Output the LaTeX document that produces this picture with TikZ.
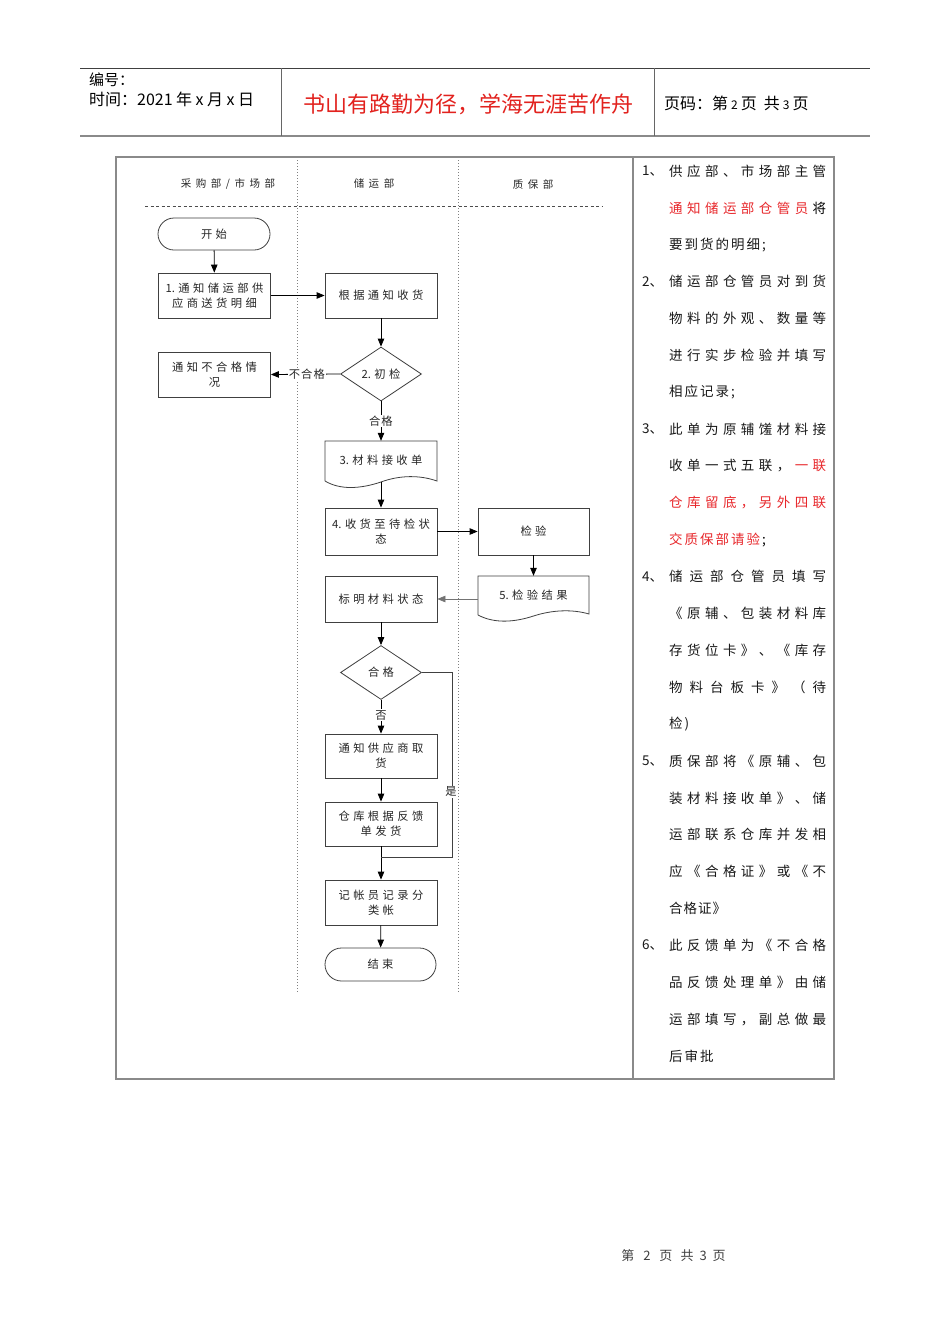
\documentclass[tikz,border=0pt]{standalone}
\usepackage{fontspec}
\setmainfont{Noto Sans CJK SC}
\usetikzlibrary{shapes.geometric,shapes.misc,arrows.meta,calc}
\definecolor{boxc}{HTML}{404040}
\definecolor{txtc}{HTML}{262626}
\definecolor{framec}{HTML}{8A8A8A}
\definecolor{titlered}{HTML}{E2221E}
\definecolor{notered}{HTML}{E8282C}
% character spreading
\newif\ifjlfirst
\def\RR{jlR}\def\KK{jlK}\def\jlE{jlE}
\def\fnA{1.}\def\fnB{2.}\def\fnC{3.}\def\fnD{4.}\def\fnE{5.}
\def\jlaux#1{%
  \ifx#1\jlE
  \else
    \ifx#1\RR\color{notered}%
    \else\ifx#1\KK\color{black}%
    \else\ifjlfirst\jlfirstfalse\else\jlsep\fi#1%
    \fi\fi
    \expandafter\jlaux
  \fi}
\newcommand\jl[1]{\hbox to 157pt{\jlfirsttrue\let\jlsep\hfill\jlaux#1\jlE}}
\newcommand\js[2][2pt]{\hbox{\jlfirsttrue\def\jlsep{\hskip#1}\jlaux#2\jlE}}
\newcommand\fcf{\fontsize{11.3}{15}\selectfont}
\newcommand\fcs[1]{\js[3.4pt]{#1}}
\begin{document}
\begin{tikzpicture}[x=1pt,y=-1pt,
  boxst/.style={draw=boxc, line width=0.8pt, minimum width=112pt, minimum height=45pt,
    inner sep=0pt, text=txtc, font=\fcf, align=center},
  termst/.style={rounded rectangle, draw=boxc, line width=0.8pt, minimum width=112pt,
    minimum height=32pt, inner sep=0pt, text=txtc, font=\fcf},
  decst/.style={diamond, draw=boxc, line width=0.8pt, minimum width=81pt, minimum height=54pt,
    inner sep=0pt, text=txtc, font=\fcf},
  docst/.style={minimum width=112pt, inner sep=0pt, text=txtc, font=\fcf},
  docline/.style={draw=boxc, line width=0.8pt},
  arr/.style={-{Triangle[length=8pt,width=6.5pt]}, line width=0.8pt, black},
  garr/.style={-{Triangle[length=8pt,width=6.5pt]}, line width=0.6pt, black!55},
  lbl/.style={fill=white, inner sep=1pt, text=txtc, font=\fcf},
  lane/.style={text=txtc, font=\fontsize{10.5}{12}\selectfont},
  note/.style={anchor=west, inner sep=0pt, text=black!90, font=\fontsize{13.5}{16}\selectfont},
]
\useasboundingbox (0,0) rectangle (950,1344);
\fill[white] (0,0) rectangle (950,1344);

% ---------- header ----------
\draw[black!75, line width=0.8pt] (80,68) -- (870,68);
\draw[framec, line width=2pt] (80,136) -- (870,136);
\draw[black!60, line width=0.8pt] (281,68) -- (281,136);
\draw[black!60, line width=0.8pt] (654,68) -- (654,136);
\node[anchor=west, inner sep=0pt, font=\fontsize{15}{15}\selectfont] (hno) at (89,80) {编号：};
\node[anchor=west, inner sep=0pt, font=\fontsize{16}{16}\selectfont] (htime) at (89,99)
  {时间：2021\hskip3.5pt 年\hskip3.5pt x\hskip3.5pt 月\hskip3.5pt x\hskip3.5pt 日};
\node[text=titlered, inner sep=0pt, font=\fontsize{22}{22}\selectfont] (htitle) at (468,104)
  {书山有路勤为径，学海无涯苦作舟};
\node[anchor=west, inner sep=0pt, font=\fontsize{16}{16}\selectfont] (hpage) at (664,103)
  {页码：第\hskip3pt{\fontsize{12}{12}\selectfont 2}\hskip3pt 页\hskip7pt 共\hskip3pt{\fontsize{12}{12}\selectfont 3}\hskip3pt 页};

% ---------- frame ----------
\draw[framec, line width=1.4pt] (116,157) rectangle (834,1079);
\draw[framec, line width=1.2pt] (633,157) -- (633,1079);

% lanes
\draw[black!50, line width=0.7pt, dash pattern=on 1.2pt off 1.8pt] (297,160) -- (297,993);
\draw[black!50, line width=0.7pt, dash pattern=on 1.2pt off 1.8pt] (458,160) -- (458,993);
\draw[black!70, line width=0.7pt, dash pattern=on 3pt off 2.5pt] (145,206) -- (603,206);
\node[lane] (lane1) at (228,184) {\js[4.5pt]{采购部/市场部}};
\node[lane] (lane2) at (374,184) {\js[4.5pt]{储运部}};
\node[lane] (lane3) at (533,184) {\js[4.5pt]{质保部}};

% ---------- flowchart nodes ----------
\node[termst] (start) at (214,234) {\fcs{开始}};
\node[boxst] (n1) at (214.5,295.5) {\fcs{\fnA 通知储运部供}\\\fcs{应商送货明细}};
\node[boxst] (n2) at (381,295.5) {\fcs{根据通知收货}};
\node[decst] (d1) at (381,374) {\fcs{\fnB 初检}};
\node[boxst] (nbad) at (214.5,374.5) {\fcs{通知不合格情}\\\fcs{况}};
\node[docst, minimum height=41pt] (n3) at (381,461.5) {\raisebox{3pt}{\fcs{\fnC 材料接收单}}};
\draw[docline] (325,481) -- (325,441) -- (437,441) -- (437,481)
  .. controls (420,475) and (400,475) .. (381,482)
  .. controls (360,489) and (340,490) .. (325,481);
\node[boxst, minimum height=47pt] (n4) at (381,531.5) {\fcs{\fnD 收货至待检状}\\\fcs{态}};
\node[boxst, minimum height=47pt, minimum width=111pt] (ninsp) at (533.5,531.5) {\fcs{检验}};
\node[docst, minimum width=111pt, minimum height=40pt] (n5) at (533.5,596) {\raisebox{2pt}{\fcs{\fnE 检验结果}}};
\draw[docline] (478,615) -- (478,576) -- (589,576) -- (589,614)
  .. controls (572,609) and (552,610) .. (533.5,616)
  .. controls (515,622) and (495,624) .. (478,615);
\node[boxst, minimum height=46pt] (nmark) at (381,599) {\fcs{标明材料状态}};
\node[decst] (d2) at (381,672.5) {\fcs{合格}};
\node[boxst, minimum height=44pt] (nret) at (381,756) {\fcs{通知供应商取}\\\fcs{货}};
\node[boxst, minimum height=44pt] (nship) at (381,824) {\fcs{仓库根据反馈}\\\fcs{单发货}};
\node[boxst] (nacc) at (381,902.5) {\fcs{记帐员记录分}\\\fcs{类帐}};
\node[termst, minimum width=111pt, minimum height=33pt] (end) at (380.5,964.5) {\fcs{结束}};
\coordinate (jn) at (381,857);

% ---------- connectors ----------
\draw[arr] (start) -- (n1);
\draw[arr] (n1) -- (n2);
\draw[arr] (n2) -- (d1);
\draw[arr] (d1.west) -- node[lbl, pos=0.48]{\js[1pt]{不合格}} (nbad.east);
\draw[arr] (d1.south) -- node[lbl, pos=0.5]{\js[1pt]{合格}} (n3.north);
\draw[arr] (n3.south) -- (n4.north);
\draw[arr] (n4) -- (ninsp);
\draw[arr] (ninsp.south) -- (n5.north);
\draw[garr] (n5.west |- nmark.east) -- (nmark.east);
\draw[arr] (nmark) -- (d2);
\draw[arr] (d2.south) -- node[lbl, pos=0.45]{否} (nret.north);
\draw[arr] (nret) -- (nship);
\draw[arr] (nship.south) -- (nacc.north);
\draw[black!75, line width=0.8pt] (d2.east) -- ++(30,0)
  -- node[lbl, pos=0.647, xshift=-1pt]{是} ++(0,184.5) -- (jn);
\draw[arr] (nacc) -- (end);

% ---------- notes ----------
\node[note] (m1) at (642,171) {1、};
\node[note] (r1) at (669,171) {\jl{供应部、市场部主管}};
\node[note] (r2) at (669,207.9) {\jl{\RR 通知储运部仓管员\KK 将}};
\node[note] (r3) at (669,244.8) {\js{要到货的明细;}};
\node[note] (m2) at (642,281.6) {2、};
\node[note] (r4) at (669,281.6) {\jl{储运部仓管员对到货}};
\node[note] (r5) at (669,318.5) {\jl{物料的外观、数量等}};
\node[note] (r6) at (669,355.4) {\jl{进行实步检验并填写}};
\node[note] (r7) at (669,392.3) {\js{相应记录;}};
\node[note] (m3) at (642,429.1) {3、};
\node[note] (r8) at (669,429.1) {\jl{此单为原辅馐材料接}};
\node[note] (r9) at (669,466) {\jl{收单一式五联，\RR 一联}};
\node[note] (r10) at (669,502.9) {\jl{\RR 仓库留底，另外四联}};
\node[note] (r11) at (669,539.8) {\js{\RR 交质保部请验\KK;}};
\node[note] (m4) at (642,576.6) {4、};
\node[note] (r12) at (669,576.6) {\jl{储运部仓管员填写}};
\node[note] (r13) at (669,613.5) {\jl{《原辅、包装材料库}};
\node[note] (r14) at (669,650.4) {\jl{存货位卡》、《库存}};
\node[note] (r15) at (669,687.3) {\jl{物料台板卡》（待}};
\node[note] (r16) at (669,724.1) {\js{检)}};
\node[note] (m5) at (642,761) {5、};
\node[note] (r17) at (669,761) {\jl{质保部将《原辅、包}};
\node[note] (r18) at (669,797.9) {\jl{装材料接收单》、储}};
\node[note] (r19) at (669,834.8) {\jl{运部联系仓库并发相}};
\node[note] (r20) at (669,871.6) {\jl{应《合格证》或《不}};
\node[note] (r21) at (669,908.5) {\js[1pt]{合格证》}};
\node[note] (m6) at (642,945.4) {6、};
\node[note] (r22) at (669,945.4) {\jl{此反馈单为《不合格}};
\node[note] (r23) at (669,982.3) {\jl{品反馈处理单》由储}};
\node[note] (r24) at (669,1019.1) {\jl{运部填写，副总做最}};
\node[note] (r25) at (669,1056) {\js{后审批}};

% ---------- footer ----------
\node[text=black!75, inner sep=0pt, font=\fontsize{13}{13}\selectfont] (foot) at (673.5,1256)
  {第\hskip9pt 2\hskip9pt 页\hskip8pt 共\hskip6pt 3\hskip6pt 页};
\end{tikzpicture}
\end{document}
